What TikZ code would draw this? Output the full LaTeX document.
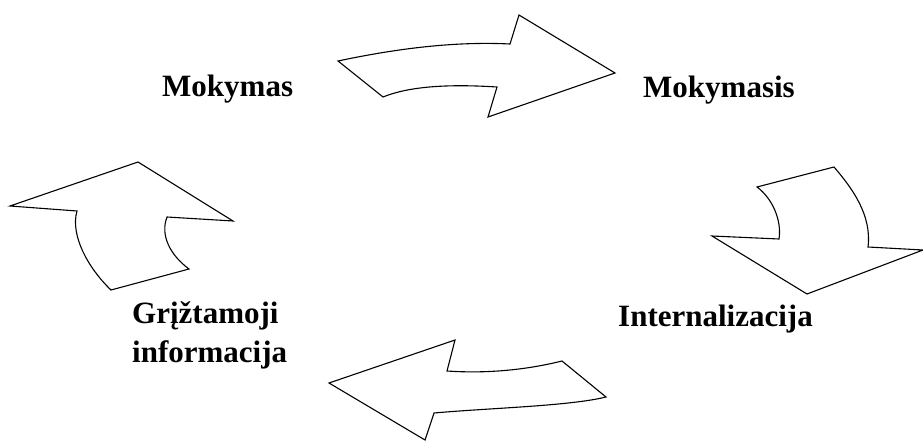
\documentclass[tikz,border=0pt]{standalone}
\usepackage{fontspec}
\setmainfont{Liberation Serif}
\begin{document}
\begin{tikzpicture}[x=1pt,y=-1pt,
  shapeline/.style={draw=black,line width=1.1pt,line join=miter,fill=white},
  lbl/.style={anchor=base west,inner sep=0pt,font=\fontsize{31}{39}\selectfont\bfseries}]
\useasboundingbox (0,0) rectangle (923,441);
% top arrow (right)
\draw[shapeline] (338,61) .. controls (390,50) and (450,41) .. (510,44)
  -- (519,15) -- (615,73) -- (488,117) -- (497,87)
  .. controls (450,84) and (410,86) .. (383,97) -- cycle;
% right arrow (down)
\draw[shapeline] (757,187) -- (834,167)
  .. controls (852,188) and (872,215) .. (868,247)
  -- (923,250) -- (807,294) -- (712,236) -- (779,239)
  .. controls (782,220) and (772,198) .. cycle;
% bottom arrow (left)
\draw[shapeline] (329,383) -- (455,340) -- (447,371)
  .. controls (490,374) and (530,369) .. (562,361)
  -- (606,397) .. controls (570,406) and (490,408) .. (434,413)
  -- (425,440) -- cycle;
% left arrow (up)
\draw[shapeline] (10,206) -- (138,162) -- (233,221) -- (167,217)
  .. controls (160,235) and (170,255) .. (189,269)
  -- (111,290) .. controls (88,268) and (70,235) .. (77,211) -- cycle;
% labels
\node[lbl] (mokymas) at (162,97) {Mokymas};
\node[lbl] (mokymasis) at (643,98) {Mokymasis};
\node[lbl] (intern) at (618,326) {Internalizacija};
\node[lbl] (griz) at (132,323) {Grįžtamoji};
\node[lbl] (info) at (132,362) {informacija};
\end{tikzpicture}
\end{document}
